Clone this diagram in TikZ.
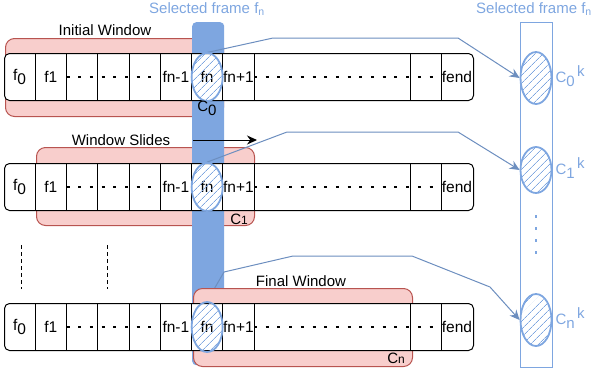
\documentclass[tikz,border=0pt]{standalone}
\usepackage{fontspec}
\setmainfont{Liberation Sans}
\usetikzlibrary{positioning,shapes.geometric,patterns.meta,arrows.meta}
\definecolor{winfill}{HTML}{F8CECC}
\definecolor{winline}{HTML}{B85450}
\definecolor{selblue}{HTML}{7EA6E0}
\definecolor{linkblue}{HTML}{6C8EBF}
\pgfdeclarelayer{bg}
\pgfsetlayers{bg,main}
\tikzset{
 cell/.style={shape=rectangle,minimum width=31.25bp,minimum height=47bp,inner sep=0pt,outer sep=0pt,font=\fontsize{15.5bp}{18bp}\selectfont},
 tape/.style={shape=rectangle,draw=black,fill=white,rounded corners=5bp,line width=1bp,minimum width=469bp,minimum height=47bp,inner sep=0pt,anchor=north west},
 window/.style={shape=rectangle,draw=winline,fill=winfill,rounded corners=9bp,line width=1bp,minimum width=218bp,minimum height=78bp,anchor=north west},
 hatched/.style={shape=ellipse,draw=selblue,line width=1.8bp,pattern={Lines[angle=45,distance=6bp,line width=1bp]},pattern color=selblue,minimum width=31bp,minimum height=48bp,inner sep=0pt},
 link/.style={draw=linkblue,line width=1bp,-{Stealth[length=10bp,width=9bp]}},
 dots/.style={line width=2.5bp,dash pattern=on 3bp off 8.7bp}
}
\begin{document}
\begin{tikzpicture}[x=1bp,y=-1bp,font=\fontsize{15bp}{18bp}\selectfont]
 \useasboundingbox (0,0) rectangle (595,372);

 \begin{pgfonlayer}{bg}
 \node[window] (w0) at (5,38) {};
 \node[window] (w1) at (36,147) {};
 \node[shape=rectangle,fill=selblue,rounded corners=4bp,minimum width=32bp,minimum height=343bp,anchor=north west] (col) at (192,22) {};
 \end{pgfonlayer}

 \node[window,minimum width=219bp] (w2) at (193,288) {};

 \node[tape] (ta) at (4,53) {};
 \node[cell,anchor=west] (a0) at (ta.west) {f\raisebox{-4bp}{0}};
 \node[cell,right=0pt of a0] (a1) {f1};
 \node[cell,right=0pt of a1] (a2) {};
 \node[cell,right=0pt of a2] (a3) {};
 \node[cell,right=0pt of a3] (a4) {};
 \node[cell,right=0pt of a4] (a5) {fn-1};
 \node[cell,right=0pt of a5] (a6) {fn};
 \node[cell,right=0pt of a6] (a7) {fn+1};
 \node[cell,right=0pt of a7,minimum width=156.5bp] (a8) {};
 \node[cell,right=0pt of a8,minimum width=31bp] (a9) {};
 \node[cell,right=0pt of a9,minimum width=31bp] (a10) {fend};

 \node[tape] (tb) at (4,163) {};
 \node[cell,anchor=west] (b0) at (tb.west) {f\raisebox{-4bp}{0}};
 \node[cell,right=0pt of b0] (b1) {f1};
 \node[cell,right=0pt of b1] (b2) {};
 \node[cell,right=0pt of b2] (b3) {};
 \node[cell,right=0pt of b3] (b4) {};
 \node[cell,right=0pt of b4] (b5) {fn-1};
 \node[cell,right=0pt of b5] (b6) {fn};
 \node[cell,right=0pt of b6] (b7) {fn+1};
 \node[cell,right=0pt of b7,minimum width=156.5bp] (b8) {};
 \node[cell,right=0pt of b8,minimum width=31bp] (b9) {};
 \node[cell,right=0pt of b9,minimum width=31bp] (b10) {fend};

 \node[tape] (tc) at (4,303) {};
 \node[cell,anchor=west] (c0) at (tc.west) {f\raisebox{-4bp}{0}};
 \node[cell,right=0pt of c0] (c1) {f1};
 \node[cell,right=0pt of c1] (c2) {};
 \node[cell,right=0pt of c2] (c3) {};
 \node[cell,right=0pt of c3] (c4) {};
 \node[cell,right=0pt of c4] (c5) {fn-1};
 \node[cell,right=0pt of c5] (c6) {fn};
 \node[cell,right=0pt of c6] (c7) {fn+1};
 \node[cell,right=0pt of c7,minimum width=156.5bp] (c8) {};
 \node[cell,right=0pt of c8,minimum width=31bp] (c9) {};
 \node[cell,right=0pt of c9,minimum width=31bp] (c10) {fend};

 \foreach \i in {0,...,9} {
  \draw[line width=1bp] (a\i.north east) -- (a\i.south east);
  \draw[line width=1bp] (b\i.north east) -- (b\i.south east);
  \draw[line width=1bp] (c\i.north east) -- (c\i.south east);
 }
 \draw[dots] (a1.east) -- (a4.east);
 \draw[dots] (a7.east) -- (a9.east);
 \draw[dots] (b1.east) -- (b4.east);
 \draw[dots] (b7.east) -- (b9.east);
 \draw[dots] (c1.east) -- (c4.east);
 \draw[dots] (c7.east) -- (c9.east);

 \node[hatched] (e0) at (a6) {};
 \node[hatched] (e1) at (b6) {};
 \node[hatched,minimum height=50bp] (e2) at (c6) {};

 \node[shape=rectangle,draw=selblue,line width=1.2bp,minimum width=32bp,minimum height=345bp,anchor=north west] (out) at (520,22) {};
 \node[hatched,minimum height=52bp] (k0) at (536,78) {};
 \node[hatched,minimum height=46bp] (k1) at (536,170) {};
 \node[hatched,minimum height=52bp] (kn) at (536,320) {};

 \begin{pgfonlayer}{bg}
 \draw[link] (e0.north) -- (273,38) -- (458,38) -- (k0.west);
 \draw[link] (e1.north) -- (287,132) -- (458,132) -- (k1.west);
 \draw[link] (e2.north) -- (224,272) -- (293,256) -- (412,256) -- (490,287) -- (kn.west);
 \end{pgfonlayer}

 \node[text=selblue] (sel0) at (207,9) {Selected frame f\textsubscript{n}};
 \node[text=selblue] (sel1) at (534,9) {Selected frame f\textsubscript{n}};
 \node (init) at (105,30) {Initial Window};
 \node (slide) at (121,140) {Window Slides};
 \coordinate (s0) at (193,140);
 \coordinate (s1) at (257,140);
 \draw[line width=1bp,-{Stealth[length=10bp,width=9bp]}] (s0) -- (s1);
 \node (final) at (301,281) {Final Window};

 \node (lc0) at (207,108) {C\raisebox{-4bp}{0}};
 \node (lc1) at (239,219) {C{\fontsize{12bp}{14bp}\selectfont 1}};
 \node (lcn) at (396,358) {C{\fontsize{12bp}{14bp}\selectfont n}};

 \node[text=selblue,anchor=west] (lk0) at (552,76) {C\raisebox{-4bp}{0}\raisebox{6bp}{\,k}};
 \node[text=selblue,anchor=west] (lk1) at (552,168) {C\raisebox{-4bp}{1}\raisebox{6bp}{\,k}};
 \node[text=selblue,anchor=west] (lkn) at (552,318) {C\raisebox{-4bp}{n}\raisebox{6bp}{\,k}};

 \coordinate (v0) at (536,215);
 \coordinate (v1) at (536,258);
 \draw[selblue,line width=2.5bp,dash pattern=on 2.5bp off 9.5bp] (v0) -- (v1);

 \coordinate (d0) at (21,245);
 \coordinate (d1) at (21,289);
 \coordinate (d2) at (107,245);
 \coordinate (d3) at (107,289);
 \draw[line width=1bp,dash pattern=on 4bp off 3bp] (d0) -- (d1);
 \draw[line width=1bp,dash pattern=on 4bp off 3bp] (d2) -- (d3);
\end{tikzpicture}
\end{document}
